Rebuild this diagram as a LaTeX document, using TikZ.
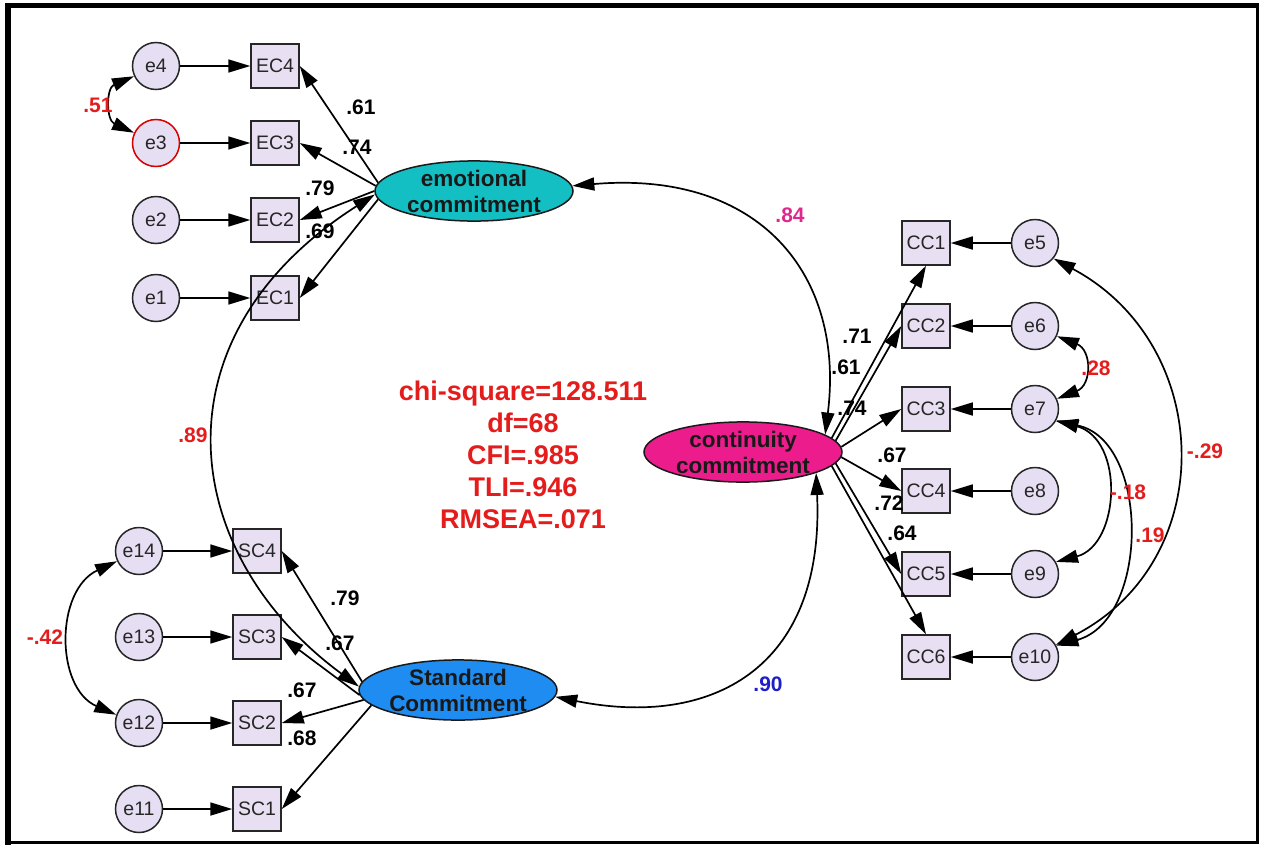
\documentclass[tikz,border=0pt]{standalone}
\usepackage{fontspec}
\setmainfont{Liberation Sans}
\usetikzlibrary{arrows.meta,shapes.geometric}
\definecolor{boxfill}{HTML}{E8E0F2}
\definecolor{circfill}{HTML}{E6DEF2}
\definecolor{emocol}{HTML}{14BFC4}
\definecolor{concol}{HTML}{EC1C8C}
\definecolor{stdcol}{HTML}{1E8CF0}
\definecolor{redlab}{HTML}{E51C1C}
\definecolor{maglab}{HTML}{E0288C}
\definecolor{bluelab}{HTML}{1F1FC8}
\begin{document}
\begin{tikzpicture}[x=1pt,y=-1pt,
  obs/.style={draw=black!85,line width=1.5pt,fill=boxfill,minimum width=48pt,minimum height=44pt,inner sep=0pt,font=\fontsize{19.5}{19.5}\selectfont,text=black!85},
  err/.style={circle,draw=black!85,line width=1.5pt,fill=circfill,minimum size=47pt,inner sep=0pt,font=\fontsize{19.5}{19.5}\selectfont,text=black!85},
  lat/.style={ellipse,draw=black!90,line width=1.5pt,minimum width=198pt,minimum height=56pt,inner sep=0pt,font=\bfseries\fontsize{22.5}{26}\selectfont,align=center,text=black!90},
  reg/.style={line width=1.7pt,-{Triangle[length=22pt,width=13pt]}},
  cov/.style={line width=1.7pt,{Triangle[length=22pt,width=13pt]}-{Triangle[length=22pt,width=13pt]}},
  lbl/.style={font=\bfseries\fontsize{21}{21}\selectfont,inner sep=0pt},
]
\useasboundingbox (0,0) rectangle (1261,849);
\fill[white] (0,0) rectangle (1261,849);
% frame
\draw[line width=3.5pt] (7.5,5.5) rectangle (1257.5,842.5);
\draw[line width=6pt] (7.5,3) -- (7.5,845);
\draw[line width=5pt] (5,5.5) -- (1259,5.5);

% latent variables
\node[lat,fill=emocol] (emo) at (474,191) {emotional\\commitment};
\node[lat,fill=concol] (con) at (743,452) {continuity\\commitment};
\node[lat,fill=stdcol] (sc) at (458,690) {Standard\\Commitment};

% emotional indicators
\node[obs] (EC4) at (275,66) {EC4};
\node[obs] (EC3) at (275,143) {EC3};
\node[obs] (EC2) at (275,220) {EC2};
\node[obs] (EC1) at (275,298) {EC1};
\node[err] (e4) at (156,66) {e4};
\node[err,draw=red!85!black] (e3) at (156,143) {e3};
\node[err] (e2) at (156,220) {e2};
\node[err] (e1) at (156,298) {e1};

% standard indicators
\node[obs] (SC4) at (257,551) {SC4};
\node[obs] (SC3) at (257,637) {SC3};
\node[obs] (SC2) at (257,723) {SC2};
\node[obs] (SC1) at (257,809) {SC1};
\node[err] (e14) at (139,551) {e14};
\node[err] (e13) at (139,637) {e13};
\node[err] (e12) at (139,723) {e12};
\node[err] (e11) at (139,809) {e11};

% continuity indicators
\node[obs] (CC1) at (926,243) {CC1};
\node[obs] (CC2) at (926,326) {CC2};
\node[obs] (CC3) at (926,409) {CC3};
\node[obs] (CC4) at (926,491) {CC4};
\node[obs] (CC5) at (926,574) {CC5};
\node[obs] (CC6) at (926,657) {CC6};
\node[err] (e5) at (1035,243) {e5};
\node[err] (e6) at (1035,326) {e6};
\node[err] (e7) at (1035,409) {e7};
\node[err] (e8) at (1035,491) {e8};
\node[err] (e9) at (1035,574) {e9};
\node[err] (e10) at (1035,657) {e10};

% error paths
\foreach \e/\o in {e4/EC4,e3/EC3,e2/EC2,e1/EC1,e14/SC4,e13/SC3,e12/SC2,e11/SC1,e5/CC1,e6/CC2,e7/CC3,e8/CC4,e9/CC5,e10/CC6}
  \draw[reg] (\e) -- (\o);

% loadings
\draw[reg] (emo.175) -- (EC4.east);
\draw[reg] (emo.177) -- (EC3.east);
\draw[reg] (emo.180) -- (EC2.east);
\draw[reg] (emo.185) -- (EC1.east);
\draw[reg] (sc.175) -- (SC4.east);
\draw[reg] (sc.183) -- (SC3.east);
\draw[reg] (sc.186) -- (SC2.east);
\draw[reg] (sc.190) -- (SC1.east);
\draw[reg] (con.9) -- (CC1.south);
\draw[reg] (con.7) -- (CC2.west);
\draw[reg] (con.3) -- (CC3.west);
\draw[reg] (con.-3) -- (CC4.west);
\draw[reg] (con.-7) -- (CC5.west);
\draw[reg] (con.-9) -- (CC6.north);

% factor covariances
\draw[cov] (emo.3) .. controls (760,170) and (845,275) .. (con.12);
\draw[cov] (emo.182) .. controls (150,338) and (179,554) .. (sc.178);
\draw[cov] (con.-16) .. controls (825,670) and (710,728) .. (sc.-4);

% error covariances
\draw[cov] (e4.205) .. controls (106,88) and (106,120) .. (e3.155);
\draw[cov] (e14.205) .. controls (55,590) and (55,688) .. (e12.160);
\draw[cov] (e6.-25) .. controls (1092,350) and (1092,385) .. (e7.25);
\draw[cov] (e5.-40) .. controls (1215,345) and (1220,560) .. (e10.30);
\draw[cov] (e7.-30) .. controls (1150,440) and (1150,620) .. (e10.28);
\draw[cov] (e7.-28) .. controls (1125,440) and (1120,545) .. (e9.30);

% loading labels
\node[lbl] (l1) at (361,107) {.61};
\node[lbl] (l2) at (357,147) {.74};
\node[lbl] (l3) at (320,188) {.79};
\node[lbl] (l4) at (320,231) {.69};
\node[lbl] (l5) at (345,598) {.79};
\node[lbl] (l6) at (340,643) {.67};
\node[lbl] (l7) at (302,690) {.67};
\node[lbl] (l8) at (302,738) {.68};
\node[lbl] (l9) at (857,336) {.71};
\node[lbl] (l10) at (846,367) {.61};
\node[lbl] (l11) at (852,408) {.74};
\node[lbl] (l12) at (892,455) {.67};
\node[lbl] (l13) at (889,503) {.72};
\node[lbl] (l14) at (902,533) {.64};

% covariance labels
\node[lbl,text=redlab] (c1) at (98,105) {.51};
\node[lbl,text=redlab] (c2) at (45,637) {-.42};
\node[lbl,text=redlab] (c3) at (193,435) {.89};
\node[lbl,text=maglab] (c4) at (790,215) {.84};
\node[lbl,text=bluelab] (c5) at (768,684) {.90};
\node[lbl,text=redlab] (c6) at (1096,368) {.28};
\node[lbl,text=redlab] (c7) at (1205,451) {-.29};
\node[lbl,text=redlab] (c8) at (1128,492) {-.18};
\node[lbl,text=redlab] (c9) at (1150,535) {.19};

% fit indices
\node[font=\bfseries\fontsize{27}{32}\selectfont,text=redlab,align=center,inner sep=0pt] (fit) at (523,455)
 {chi-square=128.511\\df=68\\CFI=.985\\TLI=.946\\RMSEA=.071};
\end{tikzpicture}
\end{document}
